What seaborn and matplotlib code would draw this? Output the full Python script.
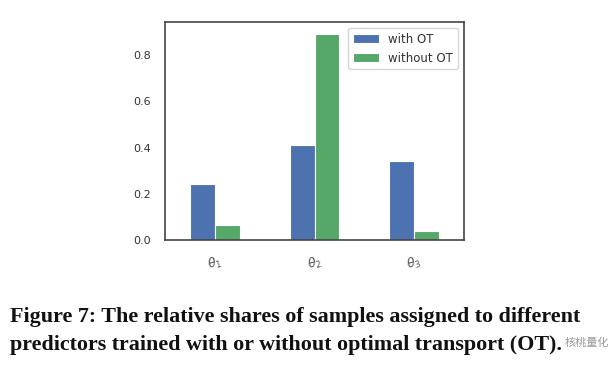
import numpy as np
import pandas as pd
import seaborn as sns
import matplotlib.pyplot as plt

predictors = [r'$\theta_1$', r'$\theta_2$', r'$\theta_3$']
with_ot = [0.242, 0.411, 0.342]
without_ot = [0.063, 0.894, 0.039]
series = ['with OT', 'without OT']

df = pd.DataFrame({
    'predictor': predictors * 2,
    'share': with_ot + without_ot,
    'method': [series[0]] * 3 + [series[1]] * 3,
})

sns.set_style('white')
fig = plt.figure(figsize=(6.11, 3.68), dpi=100)
ax = fig.add_axes([165 / 611, 1 - 240 / 368, 299 / 611, 218 / 368])

sns.barplot(data=df, x='predictor', y='share', hue='method',
            palette=['#4C72B0', '#55A868'], width=0.5, saturation=1,
            edgecolor='white', linewidth=0.8, ax=ax)

ax.set_xlim(-0.5, 2.5)
ax.set_ylim(0, 0.944)
ax.set_yticks([0.0, 0.2, 0.4, 0.6, 0.8])
ax.set_xlabel('')
ax.set_ylabel('')
ax.tick_params(axis='y', labelsize=8, labelcolor='#333333', length=0, pad=10)
ax.tick_params(axis='x', labelsize=9, labelcolor='#555555', length=0, pad=10,
               labelrotation=15)
for s in ax.spines.values():
    s.set_color('#444444')
    s.set_linewidth(1.2)

ax.legend(loc='upper right', fontsize=8.5, frameon=True, handlelength=2.2,
          borderaxespad=0.5, labelcolor='#333333')

cap_font = dict(family='Liberation Serif', weight='bold', size=15.8, color='#111111')
fig.text(10 / 611, 1 - 322 / 368, 'Figure 7: The relative shares of samples assigned to different',
         va='baseline', **cap_font)
fig.text(10 / 611, 1 - 350 / 368, 'predictors trained with or without optimal transport (OT).',
         va='baseline', **cap_font)
# wechat watermark in the corner
fig.text(609 / 611, 1 - 346 / 368, '核桃量化', family=['Noto Sans CJK SC', 'DejaVu Sans'],
         fontsize=8, color='#999999', ha='right', va='baseline')

fig.savefig('out.png', dpi=100)
